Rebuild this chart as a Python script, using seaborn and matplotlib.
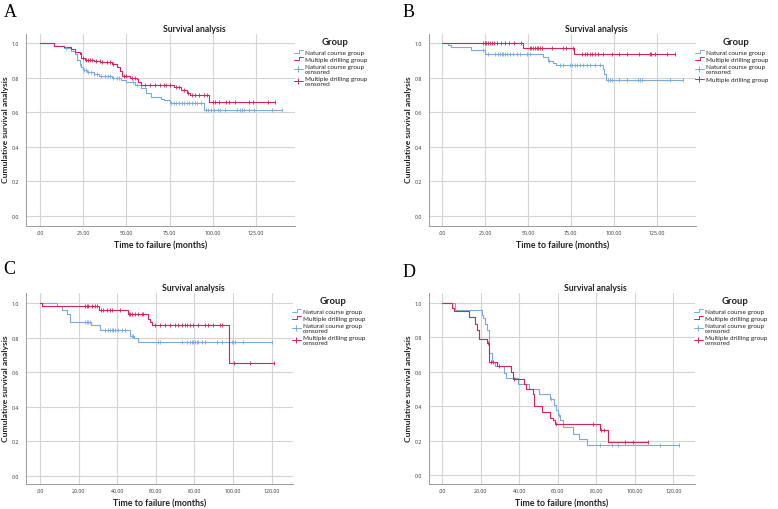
import numpy as np
import matplotlib
matplotlib.use("Agg")
import matplotlib.pyplot as plt
import seaborn as sns
from matplotlib.lines import Line2D
from matplotlib.legend_handler import HandlerBase

# ---- panel A ----
a_nat_t = [0, 8, 14, 18, 20, 21.5, 23, 24, 25, 27, 31, 34, 41.5, 47, 50, 55, 58.5, 61.5, 64.5, 70, 72, 75, 95]
a_nat_s = [1.0, 0.985, 0.97, 0.955, 0.935, 0.905, 0.88, 0.862, 0.843, 0.835, 0.82, 0.81, 0.80, 0.79, 0.775,
           0.76, 0.74, 0.71, 0.69, 0.68, 0.67, 0.655, 0.612]
a_nat_c = [15, 23, 25.5, 26.5, 28, 29.5, 31.5, 33, 35.5, 37.5, 39.5, 40.5, 42.5, 44.5, 46, 54, 56, 76, 77.5,
           79, 80.5, 82, 83.5, 85, 86.5, 88, 89.5, 91, 93, 96, 97.5, 99, 101, 103, 104, 107, 114, 115.5, 117,
           118, 121, 124, 134, 140]
a_mul_t = [0, 8, 14, 18, 20, 23, 24, 26, 31, 35, 41.5, 44.5, 46.5, 47.5, 52, 56, 57, 58.5, 77.5, 81.5, 85, 87, 98]
a_mul_s = [1.0, 0.985, 0.98, 0.965, 0.95, 0.94, 0.917, 0.905, 0.90, 0.89, 0.88, 0.86, 0.84, 0.81, 0.80, 0.795,
           0.775, 0.757, 0.745, 0.73, 0.71, 0.70, 0.66]
a_mul_c = [23.5, 25, 26.5, 28, 29, 30, 32.5, 34.5, 36, 38.5, 40.5, 42.5, 48.5, 50, 53.5, 55, 60.5, 63.5, 66.5,
           69.5, 71.5, 73, 75, 79, 80.5, 83.5, 85.5, 88, 90, 92, 95, 96.5, 100, 101.5, 103.5, 107.5, 109.5, 113,
           121, 123, 132, 136]

# ---- panel B ----
b_nat_t = [0, 3.5, 4.9, 17, 24.9, 58.9, 61.8, 64.7, 66.6, 93.5, 94.3, 95.3]
b_nat_s = [1.0, 0.99, 0.976, 0.96, 0.936, 0.92, 0.90, 0.885, 0.876, 0.85, 0.82, 0.786]
b_nat_c = [23.9, 26.8, 30.7, 32.6, 33.6, 34.6, 35.6, 36.5, 37.5, 39.5, 41.4, 43.3, 45.3, 49.2, 51.1, 62.5,
           68.6, 70.6, 74.4, 75.4, 77.4, 78.4, 80.3, 82.3, 84.2, 86.2, 89.1, 92, 96.9, 97.9, 98.9, 102.8, 107.6,
           114.4, 115.4, 116.4, 132.9, 140.5]
b_mul_t = [0, 47.2, 77]
b_mul_s = [1.0, 0.975, 0.936]
b_mul_c = [24, 24.8, 25.6, 26.5, 28, 29, 30, 32, 34, 36.5, 39, 42, 46, 51, 52, 53, 54, 55, 56, 57, 58, 64, 70.5,
           72, 76, 81.5, 83, 84.5, 86, 87.5, 89, 91, 94, 99, 103, 108, 115, 121, 122, 124, 131, 136]

# ---- panel C ----
c_nat_t = [0, 8.6, 11.2, 13.8, 15.5, 26.5, 31, 46.6, 48.5, 50.5]
c_nat_s = [1.0, 0.98, 0.96, 0.937, 0.89, 0.87, 0.843, 0.81, 0.80, 0.772]
c_nat_c = [23.3, 24.1, 25, 25.9, 33.6, 35.3, 36.3, 37.1, 38, 38.8, 40.6, 42.3, 44, 47.5, 48.2, 61.3, 62.1, 73.4,
           76, 77.7, 78.6, 79.4, 80.3, 81.1, 82, 83.7, 85.4, 91.5, 94.1, 99.3, 100.1, 101, 105.3, 120]
c_mul_t = [0, 1.2, 30.5, 45.5, 56.1, 57, 57.8, 97.8]
c_mul_s = [1.0, 0.98, 0.96, 0.935, 0.91, 0.89, 0.872, 0.654]
c_mul_c = [23.3, 24.1, 25, 26.8, 28.5, 29.4, 31.5, 32.8, 34.5, 36.3, 37.1, 41.4, 46, 46.6, 47.5, 49.2, 50.9,
           52.7, 53.5, 59.5, 62.1, 64.7, 67.3, 69.9, 71.6, 73.4, 75.1, 76, 77.7, 79.4, 82, 85.4, 87.2, 89.8, 93.2,
           94.1, 100.5, 108.8, 121]

# ---- panel D ----
d_nat_t = [0, 6.6, 20.5, 21.3, 22.3, 23, 24, 24.5, 26, 27.3, 32, 33, 39.5, 45, 50, 56, 58, 59, 60, 61, 62.5,
           68, 71, 75]
d_nat_s = [1.0, 0.955, 0.93, 0.91, 0.877, 0.84, 0.78, 0.71, 0.655, 0.635, 0.595, 0.565, 0.53, 0.50, 0.47, 0.44,
           0.41, 0.38, 0.35, 0.32, 0.28, 0.24, 0.21, 0.175]
d_nat_c = [56.5, 60.5, 82, 88, 91, 113, 123]
d_mul_t = [0, 5, 6, 14, 17, 18, 19, 23, 24.5, 28.5, 35.7, 36.5, 42.5, 43.3, 47, 47.7, 52, 56, 57.6, 58.5, 82, 86]
d_mul_s = [1.0, 0.97, 0.95, 0.92, 0.877, 0.84, 0.79, 0.765, 0.655, 0.633, 0.60, 0.56, 0.53, 0.50, 0.47, 0.40,
           0.365, 0.33, 0.32, 0.30, 0.26, 0.195]
d_mul_c = [23.5, 25.5, 26.5, 29.5, 37, 59, 78, 82.5, 84, 95, 99, 107]

group_labels = ["Natural course group", "Multiple drilling group",
                "Natural course group\ncensored", "Multiple drilling group\ncensored"]
group_labels_b = ["Natural course group", "Multiple drilling group",
                  "Natural course group\ncensored", "Multiple drilling group"]

BLUE = "#79abe0"
RED = "#d3245a"
TXT = "#222222"

sns.set_theme(style="white")
plt.rcParams["font.family"] = ["Lato", "DejaVu Sans"]


def surv_at(times, surv, t):
    idx = np.searchsorted(np.asarray(times), np.asarray(t), side="right") - 1
    return np.asarray(surv)[idx]


class StepHandler(HandlerBase):
    def create_artists(self, legend, orig_handle, xdescent, ydescent, width, height, fontsize, trans):
        xs = np.array([0, 0.55, 0.55, 1.0]) * width - xdescent
        ys = np.array([0.2, 0.2, 0.85, 0.85]) * height - ydescent
        ln = Line2D(xs, ys, color=orig_handle.get_color(), lw=0.7)
        ln.set_transform(trans)
        return [ln]


def draw_panel(ax, curves, xticks, xlim, ylim, labels):
    for times, surv, cens, col in curves:
        end = max(max(cens), times[-1])
        xs = list(times) + [end]
        ys = list(surv) + [surv[-1]]
        sns.lineplot(x=xs, y=ys, drawstyle="steps-post", color=col, lw=0.8,
                     estimator=None, sort=False, ax=ax)
        sns.scatterplot(x=cens, y=surv_at(times, surv, cens), marker="|", s=12,
                        color=col, linewidth=0.6, ax=ax, zorder=3)

    ax.set_xlim(*xlim)
    ax.set_ylim(*ylim)
    ax.set_xticks(xticks)
    ax.set_xticklabels([".00"] + [f"{v:.2f}" for v in xticks[1:]])
    ax.set_yticks([0, 0.2, 0.4, 0.6, 0.8, 1.0])
    ax.set_yticklabels(["0.0", "0.2", "0.4", "0.6", "0.8", "1.0"])
    ax.tick_params(axis="x", labelsize=3.8, length=1.5, width=0.5, color="#999999", pad=1.5, labelcolor="#333333")
    ax.tick_params(axis="y", labelsize=3.8, length=0, pad=5, labelcolor="#333333")
    for t in ax.get_xticklabels() + ax.get_yticklabels():
        t.set_family(["Open Sans", "DejaVu Sans"])
    ax.grid(True, color="#d4d4d4", lw=0.8)
    for s in ["top", "right"]:
        ax.spines[s].set_visible(False)
    for s in ["left", "bottom"]:
        ax.spines[s].set_color("#9a9a9a")
        ax.spines[s].set_linewidth(0.7)

    ax.text(0.627, 1.03, "Survival analysis", transform=ax.transAxes, ha="center", va="center",
            fontsize=6.2, fontweight="bold", color=TXT)
    ax.set_xlabel("Time to failure (months)", fontsize=6.3, fontweight="bold", color=TXT)
    ax.xaxis.set_label_coords(0.5, -0.097)
    ax.xaxis.label.set_va("center")
    ax.set_ylabel("Cumulative survival analysis", fontsize=6.1, fontweight="bold", color=TXT)
    ax.yaxis.set_label_coords(-0.077, 0.505)
    ax.yaxis.label.set_va("center")

    ax.text(1.15, 0.963, "Group", transform=ax.transAxes, ha="center", va="center",
            fontsize=6.8, fontweight="bold", color=TXT)
    h_nat = Line2D([], [], color=BLUE, lw=0.7)
    h_mul = Line2D([], [], color=RED, lw=0.7)
    h_nat_c = Line2D([], [], color=BLUE, lw=0.7, marker="|", ms=4.5, mew=0.7)
    h_mul_c = Line2D([], [], color=RED, lw=0.7, marker="|", ms=4.5, mew=0.7)
    leg = ax.legend([h_nat, h_mul, h_nat_c, h_mul_c], labels,
                    loc="upper left", bbox_to_anchor=(0.995, 0.92), frameon=False,
                    fontsize=4.6, handlelength=1.5, handletextpad=0.25, labelspacing=0.32,
                    borderpad=0, borderaxespad=0, numpoints=1,
                    handler_map={h_nat: StepHandler(), h_mul: StepHandler()})
    for t in leg.get_texts():
        t.set_color(TXT)
        t.set_linespacing(1.0)


fig = plt.figure(figsize=(7.78, 5.10), dpi=100)
ax_a = fig.add_axes([0.0334, 0.555, 0.3458, 0.3765])
ax_b = fig.add_axes([0.5518, 0.555, 0.3428, 0.3765])
ax_c = fig.add_axes([0.0330, 0.049, 0.3436, 0.3745])
ax_d = fig.add_axes([0.5514, 0.049, 0.3419, 0.3745])

draw_panel(ax_a, [(a_nat_t, a_nat_s, a_nat_c, BLUE), (a_mul_t, a_mul_s, a_mul_c, RED)],
           [0, 25, 50, 75, 100, 125], (-8.1, 147.6), (-0.058, 1.054), group_labels)
draw_panel(ax_b, [(b_nat_t, b_nat_s, b_nat_c, BLUE), (b_mul_t, b_mul_s, b_mul_c, RED)],
           [0, 25, 50, 75, 100, 125], (-7.6, 148.0), (-0.058, 1.054), group_labels_b)
draw_panel(ax_c, [(c_nat_t, c_nat_s, c_nat_c, BLUE), (c_mul_t, c_mul_s, c_mul_c, RED)],
           [0, 20, 40, 60, 80, 100, 120], (-7.4, 131.0), (-0.048, 1.058), group_labels)
draw_panel(ax_d, [(d_nat_t, d_nat_s, d_nat_c, BLUE), (d_mul_t, d_mul_s, d_mul_c, RED)],
           [0, 20, 40, 60, 80, 100, 120], (-6.9, 131.2), (-0.05, 1.056), group_labels)

for x, y, letter in [(0.005, 0.992, "A"), (0.517, 0.992, "B"), (0.004, 0.488, "C"), (0.517, 0.482, "D")]:
    fig.text(x, y, letter, fontsize=13, family="Liberation Serif", va="top", ha="left", color="black")

fig.savefig("out.png", dpi=100)
